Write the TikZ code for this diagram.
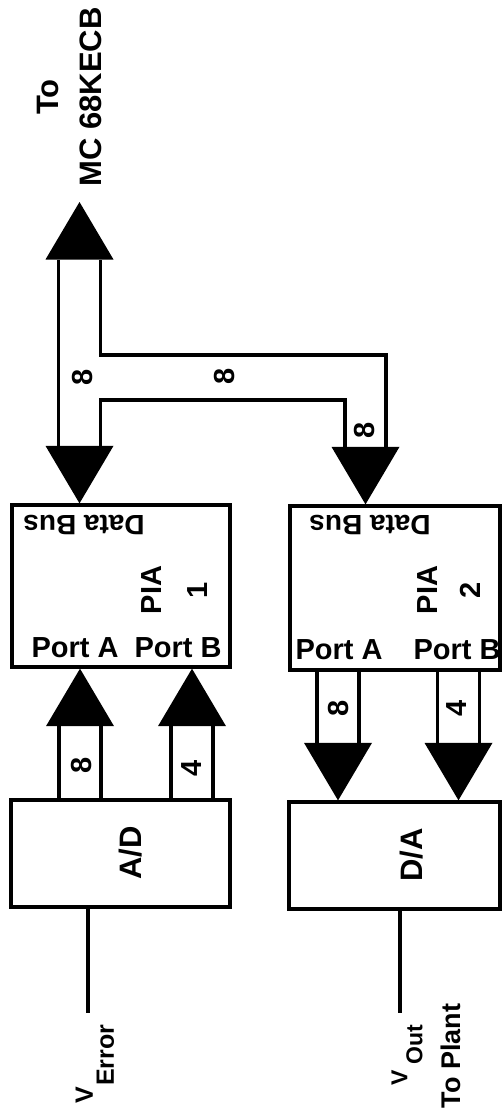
\documentclass[tikz,border=0pt]{standalone}
\usepackage{fontspec}
\setmainfont{Liberation Sans}
\usetikzlibrary{calc}

% arrow head only (tail gives the direction)
\newcommand{\bushead}[2]{%
  \coordinate (hb) at ($(#2)!57.5pt!(#1)$);
  \fill[black] ($(hb)!34pt!90:(#2)$) -- (#2) -- ($(hb)!34pt!-90:(#2)$) -- cycle;}
% wide bus arrow at height x=#1 from anchor #2 to anchor #3
\newcommand{\fatarrow}[3]{%
  \coordinate (ft) at (#2 -| #1,0);
  \coordinate (fh) at (#3 -| #1,0);
  \coordinate (hb) at ($(fh)!57.5pt!(ft)$);
  \draw[busline] ($(ft)!21pt!90:(fh)$) -- ($(hb)!21pt!90:(fh)$);
  \draw[busline] ($(ft)!21pt!-90:(fh)$) -- ($(hb)!21pt!-90:(fh)$);
  \bushead{ft}{fh}}

\begin{document}
\begin{tikzpicture}[x=1pt, y=1pt,
  every node/.style={font=\bfseries\fontsize{29}{31}\selectfont, inner sep=0pt},
  box/.style={draw, line width=3.3pt, minimum width=#1},
  busline/.style={line width=3.1pt, line join=miter},
  big/.style={font=\bfseries\fontsize{31}{33}\selectfont}]
  \useasboundingbox (0,0) rectangle (502,-1119);

  % Bausteine
  \node[box=218pt, minimum height=162pt] (pia1) at (121,-586) {};
  \node[box=210pt, minimum height=164pt] (pia2) at (395,-588) {};
  \node[box=219pt, minimum height=107pt] (ad) at (120.5,-853.5) {};
  \node[box=211pt, minimum height=107pt] (da) at (394.5,-855.5) {};

  % Beschriftung der Bausteine
  \node[rotate=180, font=\bfseries\fontsize{28}{30}\selectfont] (db1) at (84,-525) {Data Bus};
  \node[rotate=180, font=\bfseries\fontsize{28}{30}\selectfont] (db2) at (370,-525) {Data Bus};
  \node[rotate=90] (pianame1) at (152,-590) {PIA};
  \node[rotate=90] (pianum1) at (198,-590) {1};
  \node[rotate=90] (pianame2) at (428,-590) {PIA};
  \node[rotate=90] (pianum2) at (470,-590) {2};
  \node (pa1) at (75,-648) {Port A};
  \node (pb1) at (178,-648) {Port B};
  \node (pa2) at (339,-650) {Port A};
  \node (pb2) at (457,-650) {Port B};
  \node[rotate=90, big] (adlbl) at (131,-853) {A/D};
  \node[rotate=90, big] (dalbl) at (412,-855) {D/A};

  % Datenbus zum Rechner
  \node[rotate=90, big] (to) at (48,-97) {To};
  \node[rotate=90, big] (mc) at (91,-97) {MC 68KECB};
  \coordinate (mctip) at (79.5,-202);
  \coordinate (jn) at (79.5,-377);
  \draw[busline] (58.5,-260) -- (58.5,-448);
  \draw[busline] (100.5,-260) -- (100.5,-355) -- (386,-355) -- (386,-448);
  \draw[busline] (100.5,-448) -- (100.5,-400) -- (345,-400) -- (345,-448);
  \bushead{jn}{mctip}
  \bushead{jn}{pia1.north -| 79.5,0}
  \bushead{365.5,-377}{pia2.north -| 365.5,0}
  \node[rotate=90] (w1) at (83,-377) {8};
  \node[rotate=90] (w2) at (225,-376) {8};
  \node[rotate=90] (w3) at (365,-430) {8};

  % Ports
  \fatarrow{80}{ad.north}{pia1.south}
  \fatarrow{192}{ad.north}{pia1.south}
  \fatarrow{338}{pia2.south}{da.north}
  \fatarrow{458.5}{pia2.south}{da.north}
  \node[rotate=90] (w4) at (82,-765) {8};
  \node[rotate=90] (w5) at (192,-768) {4};
  \node[rotate=90] (w6) at (339,-708) {8};
  \node[rotate=90] (w7) at (457,-708) {4};

  % Analogsignale
  \coordinate (verr) at (88,-1013);
  \coordinate (vout) at (400,-1013);
  \draw[line width=3.1pt] (ad.south -| verr) -- (verr);
  \draw[line width=3.1pt] (da.south -| vout) -- (vout);
  \node[rotate=90, font=\bfseries\fontsize{25}{27}\selectfont] (errlbl) at (95,-1064)
    {V\hspace{1pt}\raisebox{-21pt}{Error}};
  \node[rotate=90, font=\bfseries\fontsize{23}{25}\selectfont] (outlbl) at (407,-1055)
    {V\hspace{6pt}\raisebox{-15pt}{Out}};
  \node[rotate=90, font=\bfseries\fontsize{27}{29}\selectfont] (plant) at (451,-1056) {To Plant};
\end{tikzpicture}
\end{document}
